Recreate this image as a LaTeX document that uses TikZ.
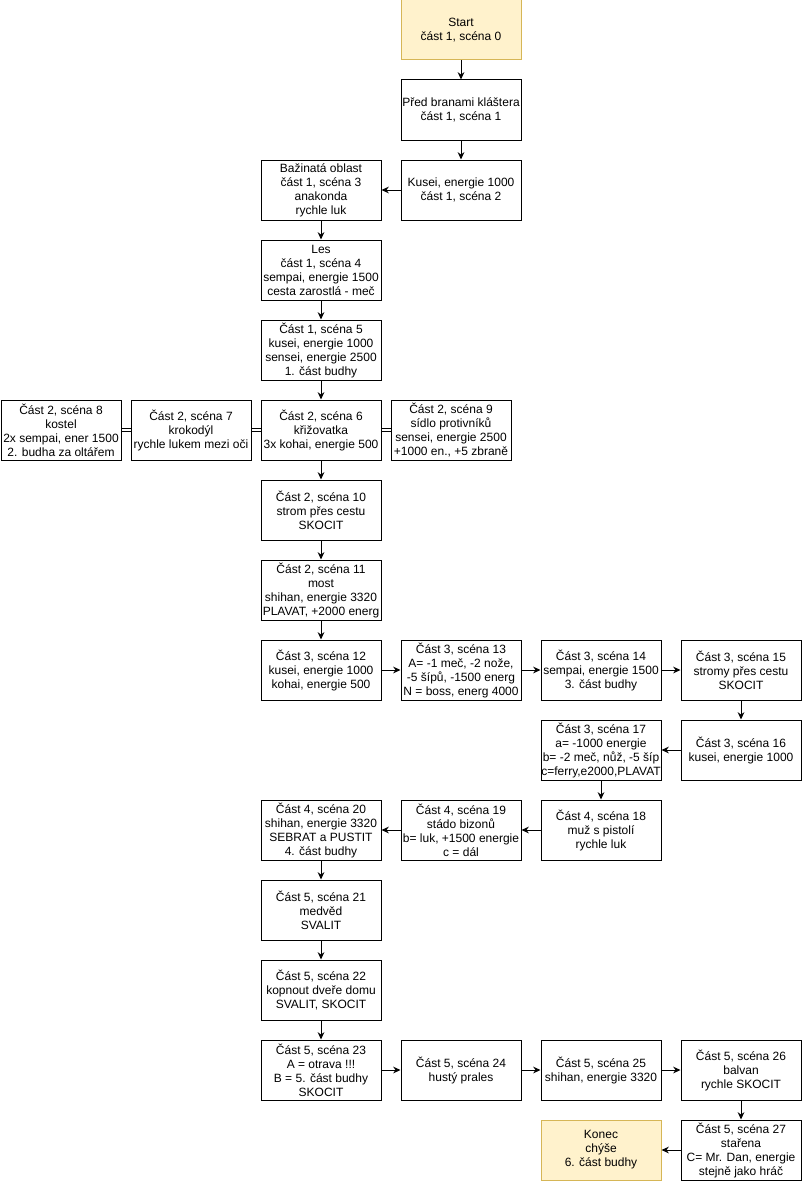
\documentclass[tikz,border=0pt]{standalone}
\usepackage{fontspec}
\setmainfont{Liberation Sans}
\usepackage{xcolor}
\usetikzlibrary{arrows.meta}
\definecolor{startfill}{HTML}{FFF2CC}
\definecolor{startline}{HTML}{D6B656}

\begin{document}
\begin{tikzpicture}[x=0.75pt,y=-0.75pt,
                    box/.style={draw, line width=0.75pt, minimum width=90pt, minimum height=45pt,
                                inner sep=0pt, align=center, font=\fontsize{9}{10.5}\selectfont},
                    endbox/.style={box, draw=startline, fill=startfill},
                    arr/.style={-{Stealth[length=5.5pt,width=5pt]}, line width=0.75pt},
                    link/.style={double, double distance=1.5pt, line width=0.75pt}]
                    \useasboundingbox (0,0) rectangle (801,1181);
                    % part 1
                    \node[endbox] (s0) at (461,30) {Start\\část 1, scéna 0};
                    \node[box] (s1) at (461,110) {Před branami kláštera\\část 1, scéna 1};
                    \node[box] (s2) at (461,190) {Kusei, energie 1000\\část 1, scéna 2};
                    \node[box] (s3) at (321,190) {Bažinatá oblast\\část 1, scéna 3\\anakonda\\rychle luk};
                    \node[box] (s4) at (321,270) {Les\\část 1, scéna 4\\sempai, energie 1500\\cesta zarostlá - meč};
                    \node[box] (s5) at (321,350) {Část 1, scéna 5\\kusei, energie 1000\\sensei, energie 2500\\1. část budhy};
                    % part 2
                    \node[box] (s6) at (321,430) {Část 2, scéna 6\\křižovatka\\3x kohai, energie 500};
                    \node[box] (s7) at (191,430) {Část 2, scéna 7\\krokodýl\\rychle lukem mezi oči};
                    \node[box] (s8) at (61,430) {Část 2, scéna 8\\kostel\\2x sempai, ener 1500\\2. budha za oltářem};
                    \node[box] (s9) at (451,430) {Část 2, scéna 9\\sídlo protivníků\\sensei, energie 2500\\+1000 en., +5 zbraně};
                    \node[box] (s10) at (321,510) {Část 2, scéna 10\\strom přes cestu\\SKOCIT};
                    \node[box] (s11) at (321,590) {Část 2, scéna 11\\most\\shihan, energie 3320\\PLAVAT, +2000 energ};
                    % part 3
                    \node[box] (s12) at (321,670) {Část 3, scéna 12\\kusei, energie 1000\\kohai, energie 500};
                    \node[box] (s13) at (461,670) {Část 3, scéna 13\\A= -1 meč, -2 nože,\\-5 šípů, -1500 energ\\N = boss, energ 4000};
                    \node[box] (s14) at (601,670) {Část 3, scéna 14\\sempai, energie 1500\\3. část budhy};
                    \node[box] (s15) at (741,670) {Část 3, scéna 15\\stromy přes cestu\\SKOCIT};
                    \node[box] (s16) at (741,750) {Část 3, scéna 16\\kusei, energie 1000};
                    \node[box] (s17) at (601,750) {Část 3, scéna 17\\a= -1000 energie\\b= -2 meč, nůž, -5 šíp\\c=ferry,e2000,PLAVAT};
                    % part 4
                    \node[box] (s18) at (601,830) {Část 4, scéna 18\\muž s pistolí\\rychle luk};
                    \node[box] (s19) at (461,830) {Část 4, scéna 19\\stádo bizonů\\b= luk, +1500 energie\\c = dál};
                    \node[box] (s20) at (321,830) {Část 4, scéna 20\\shihan, energie 3320\\SEBRAT a PUSTIT\\4. část budhy};
                    % part 5
                    \node[box] (s21) at (321,910) {Část 5, scéna 21\\medvěd\\SVALIT};
                    \node[box] (s22) at (321,990) {Část 5, scéna 22\\kopnout dveře domu\\SVALIT, SKOCIT};
                    \node[box] (s23) at (321,1070) {Část 5, scéna 23\\A = otrava !!!\\B = 5. část budhy\\SKOCIT};
                    \node[box] (s24) at (461,1070) {Část 5, scéna 24\\hustý prales};
                    \node[box] (s25) at (601,1070) {Část 5, scéna 25\\shihan, energie 3320};
                    \node[box] (s26) at (741,1070) {Část 5, scéna 26\\balvan\\rychle SKOCIT};
                    \node[box] (s27) at (741,1150) {Část 5, scéna 27\\stařena\\C= Mr. Dan, energie\\stejně jako hráč};
                    \node[endbox] (end) at (601,1150) {Konec\\chýše\\6. část budhy};
                    % arrows
                    \draw[arr] (s0) -- (s1);
                    \draw[arr] (s1) -- (s2);
                    \draw[arr] (s2) -- (s3);
                    \draw[arr] (s3) -- (s4);
                    \draw[arr] (s4) -- (s5);
                    \draw[arr] (s5) -- (s6);
                    \draw[link] (s6) -- (s7);
                    \draw[link] (s7) -- (s8);
                    \draw[link] (s6) -- (s9);
                    \draw[arr] (s6) -- (s10);
                    \draw[arr] (s10) -- (s11);
                    \draw[arr] (s11) -- (s12);
                    \draw[arr] (s12) -- (s13);
                    \draw[arr] (s13) -- (s14);
                    \draw[arr] (s14) -- (s15);
                    \draw[arr] (s15) -- (s16);
                    \draw[arr] (s16) -- (s17);
                    \draw[arr] (s17) -- (s18);
                    \draw[arr] (s18) -- (s19);
                    \draw[arr] (s19) -- (s20);
                    \draw[arr] (s20) -- (s21);
                    \draw[arr] (s21) -- (s22);
                    \draw[arr] (s22) -- (s23);
                    \draw[arr] (s23) -- (s24);
                    \draw[arr] (s24) -- (s25);
                    \draw[arr] (s25) -- (s26);
                    \draw[arr] (s26) -- (s27);
                    \draw[arr] (s27) -- (end);
                \end{tikzpicture}
\end{document}
